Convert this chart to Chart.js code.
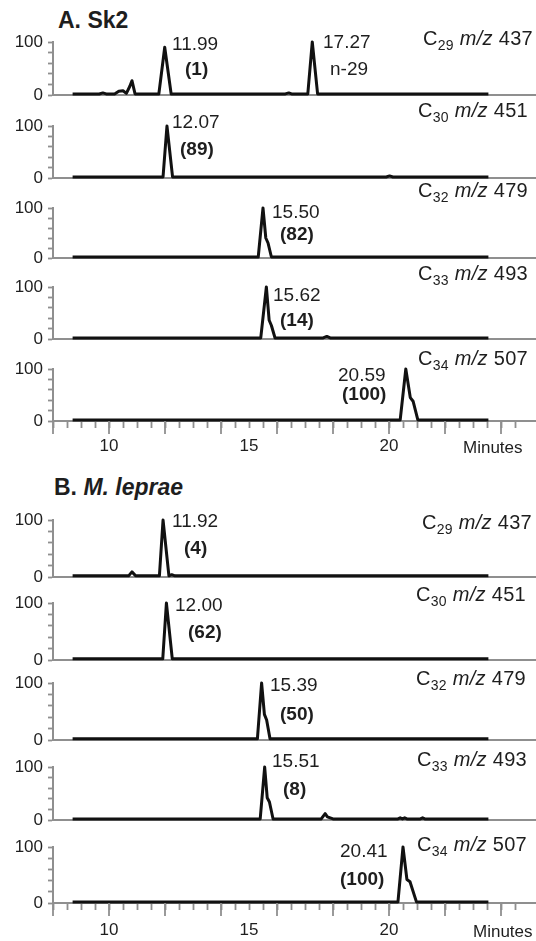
<!DOCTYPE html>
<html>
<head>
<meta charset="utf-8">
<script src="https://cdn.jsdelivr.net/npm/chart.js@4.4.0/dist/chart.umd.min.js"></script>
<style>
    body { margin: 0; background: #fff; }
    #fig { position: relative; width: 536px; height: 941px; overflow: hidden; background: #fff;
           font-family: "Liberation Sans", Arial, sans-serif; color: #1e1e1e; }
    #fig canvas { position: absolute; left: 0; }
    .txt { position: absolute; white-space: nowrap; line-height: 1; }
    .ion { letter-spacing: 0.3px; }
    .sub { font-size: 14px; position: relative; top: 5px; }
</style>
</head>
<body>
<div id="fig"></div>
<script>
// ---- tick labels ----
const xTickLabels = [10, 15, 20];
const yTickLabels = [0, 100];

// ---- ions ----
const carbons = [29, 30, 32, 33, 34];
const mzValues = [437, 451, 479, 493, 507];

// ---- A. Sk2 : retention time (min) / relative intensity (%) ----
const sk2C29Time = [8.7, 9.65, 9.78, 9.9, 10.2, 10.35, 10.5, 10.62, 10.74, 10.82, 10.93, 11.78, 11.99, 12.22, 16.3, 16.42, 16.52, 17.1, 17.26, 17.45, 23.55];
const sk2C29Int  = [2, 2, 4, 2, 2, 7, 8, 3, 16, 27, 2, 2, 90, 2, 2, 4, 2, 2, 100, 2, 2];
const sk2C30Time = [8.7, 11.93, 12.07, 12.27, 19.9, 20.02, 20.14, 23.55];
const sk2C30Int  = [2, 2, 100, 2, 2, 4, 2, 2];
const sk2C32Time = [8.7, 15.33, 15.5, 15.6, 15.68, 15.8, 23.55];
const sk2C32Int  = [2, 2, 100, 40, 30, 2, 2];
const sk2C33Time = [8.7, 15.42, 15.62, 15.72, 15.8, 15.93, 17.65, 17.78, 17.9, 23.55];
const sk2C33Int  = [2, 2, 100, 36, 26, 2, 2, 5, 2, 2];
const sk2C34Time = [8.7, 20.4, 20.6, 20.76, 20.86, 21.03, 23.55];
const sk2C34Int  = [2, 2, 100, 45, 38, 2, 2];

// ---- B. M. leprae ----
const lepC29Time = [8.7, 10.7, 10.82, 10.95, 11.8, 11.93, 12.14, 12.24, 12.36, 23.55];
const lepC29Int  = [2, 2, 9, 2, 2, 100, 2, 4, 2, 2];
const lepC30Time = [8.7, 11.92, 12.05, 12.26, 23.55];
const lepC30Int  = [2, 2, 100, 2, 2];
const lepC32Time = [8.7, 15.3, 15.45, 15.55, 15.63, 15.75, 23.55];
const lepC32Int  = [2, 2, 100, 45, 35, 2, 2];
const lepC33Time = [8.7, 15.4, 15.56, 15.65, 15.73, 15.86, 17.58, 17.72, 17.8, 17.9, 18.0, 20.32, 20.4, 20.48, 20.56, 20.64, 21.12, 21.2, 21.28, 23.55];
const lepC33Int  = [2, 2, 100, 42, 34, 2, 2, 12, 6, 4, 2, 2, 4, 2, 4, 2, 2, 4, 2, 2];
const lepC34Time = [8.7, 20.32, 20.5, 20.64, 20.75, 20.98, 23.55];
const lepC34Int  = [2, 2, 100, 42, 38, 2, 2];

// ---- peak annotations ----
const sk2PeakTimes = ['11.99', '12.07', '15.50', '15.62', '20.59'];
const sk2Percent   = ['(1)', '(89)', '(82)', '(14)', '(100)'];
const lepPeakTimes = ['11.92', '12.00', '15.39', '15.51', '20.41'];
const lepPercent   = ['(4)', '(62)', '(50)', '(8)', '(100)'];

// ---- layout (pixels) ----
const FONT = '"Liberation Sans", Arial, sans-serif';
const AXIS_GREY = '#8f8f8f';
const panels = [
    {
        title: 'A. Sk2', titlePos: [58, 28],
        times: [sk2C29Time, sk2C30Time, sk2C32Time, sk2C33Time, sk2C34Time],
        ints: [sk2C29Int, sk2C30Int, sk2C32Int, sk2C33Int, sk2C34Int],
        peaks: sk2PeakTimes, pct: sk2Percent,
        y100: [42, 126, 208, 287, 369], y0: [95, 178, 258, 339, 421],
        peakPos: [[172, 50], [172, 128], [272, 218], [273, 301], [338, 381]],
        pctPos: [[185, 75], [180, 155], [280, 240], [280, 326], [342, 400]],
        ionPos: [[423, 45], [418, 117], [418, 197], [418, 280], [418, 365]],
        minutesPos: [463, 453], xLabelPad: 8
    },
    {
        title: 'B. <i>M. leprae</i>', titlePos: [54, 495],
        times: [lepC29Time, lepC30Time, lepC32Time, lepC33Time, lepC34Time],
        ints: [lepC29Int, lepC30Int, lepC32Int, lepC33Int, lepC34Int],
        peaks: lepPeakTimes, pct: lepPercent,
        y100: [520, 603, 683, 767, 847], y0: [577, 660, 740, 820, 903],
        peakPos: [[172, 527], [175, 611], [270, 691], [272, 767], [340, 857]],
        pctPos: [[184, 554], [188, 638], [280, 720], [283, 795], [340, 885]],
        ionPos: [[422, 529], [416, 601], [416, 685], [417, 766], [417, 851]],
        minutesPos: [473, 937], xLabelPad: 10
    }
];

const fig = document.getElementById('fig');

function addText(html, left, baseline, size, weight, cls) {
    const d = document.createElement('div');
    d.className = 'txt' + (cls ? ' ' + cls : '');
    d.innerHTML = html;
    d.style.left = left + 'px';
    d.style.top = (baseline - 0.8465 * size) + 'px';
    d.style.fontSize = size + 'px';
    if (weight) d.style.fontWeight = weight;
    fig.appendChild(d);
}

// longer tick every 2 minutes on the bottom axis
const majorTicks = {
    id: 'majorTicks',
    afterDraw(chart, args, opts) {
        if (!opts.on) return;
        const x = chart.scales.x;
        const ctx = chart.ctx;
        ctx.save();
        ctx.strokeStyle = AXIS_GREY;
        ctx.lineWidth = 1.8;
        x.ticks.forEach(t => {
            if (t.value % 2 === 0) {
                const px = x.getPixelForValue(t.value);
                ctx.beginPath();
                ctx.moveTo(px, x.top);
                ctx.lineTo(px, x.top + 13);
                ctx.stroke();
            }
        });
        ctx.restore();
    }
};

function makeChart(y100, y0, time, inten, isBottom, labelPad) {
    // room above/below the plot area so Chart.js does not shrink it for the 0/100 labels
    const padTop = 18;
    const xHeight = isBottom ? 40 : 18;
    const h = (y0 - y100) + padTop + xHeight;
    const cv = document.createElement('canvas');
    cv.width = 536;
    cv.height = h;
    cv.style.width = '536px';
    cv.style.height = h + 'px';
    cv.style.top = (y100 - padTop) + 'px';
    fig.appendChild(cv);

    return new Chart(cv, {
        type: 'line',
        data: {
            datasets: [{
                data: time.map((t, i) => ({ x: t, y: inten[i] })),
                borderColor: '#111',
                borderWidth: 3,
                borderJoinStyle: 'round',
                pointRadius: 0,
                tension: 0,
                fill: false,
                clip: false
            }]
        },
        options: {
            responsive: false,
            animation: false,
            devicePixelRatio: 1,
            layout: { padding: { top: padTop, left: 0, right: 0, bottom: 0 } },
            plugins: {
                legend: { display: false },
                tooltip: { enabled: false },
                majorTicks: { on: isBottom }
            },
            scales: {
                x: {
                    type: 'linear',
                    min: 8,
                    max: 25.25,
                    afterFit: s => { s.height = xHeight; },
                    afterBuildTicks: s => { s.ticks = s.ticks.filter(t => t.value <= 24.5001); },
                    ticks: {
                        display: isBottom,
                        stepSize: 0.5,
                        autoSkip: false,
                        maxRotation: 0,
                        padding: labelPad,
                        font: { family: FONT, size: 17 },
                        color: '#1e1e1e',
                        callback: v => xTickLabels.includes(v) ? String(v) : ''
                    },
                    grid: {
                        display: isBottom,
                        drawOnChartArea: false,
                        tickLength: 7,
                        tickColor: AXIS_GREY,
                        tickWidth: 1.8
                    },
                    border: { display: true, color: AXIS_GREY, width: 2 }
                },
                y: {
                    min: 0,
                    max: 100,
                    afterFit: s => { s.width = 53; },
                    ticks: {
                        stepSize: 20,
                        autoSkip: false,
                        padding: 5,
                        font: { family: FONT, size: 17 },
                        color: '#1e1e1e',
                        callback: v => yTickLabels.includes(v) ? String(v) : ''
                    },
                    grid: {
                        drawOnChartArea: false,
                        tickLength: 5,
                        tickColor: AXIS_GREY,
                        tickWidth: 1.8
                    },
                    border: { color: AXIS_GREY, width: 2 }
                }
            }
        },
        plugins: [majorTicks]
    });
}

panels.forEach(p => {
    addText(p.title, p.titlePos[0], p.titlePos[1], 23, 'bold');
    for (let i = 0; i < 5; i++) {
        makeChart(p.y100[i], p.y0[i], p.times[i], p.ints[i], i === 4, p.xLabelPad);
        addText(p.peaks[i], p.peakPos[i][0], p.peakPos[i][1], 19);
        addText(p.pct[i], p.pctPos[i][0], p.pctPos[i][1], 19, 'bold');
        addText('C<span class="sub">' + carbons[i] + '</span> <i>m/z</i> ' + mzValues[i],
                p.ionPos[i][0], p.ionPos[i][1], 20, null, 'ion');
    }
    addText('Minutes', p.minutesPos[0], p.minutesPos[1], 17);
});

// second peak in the Sk2 C29 trace
addText('17.27', 323, 48, 19);
addText('n-29', 330, 75, 19);
</script>
</body>
</html>
